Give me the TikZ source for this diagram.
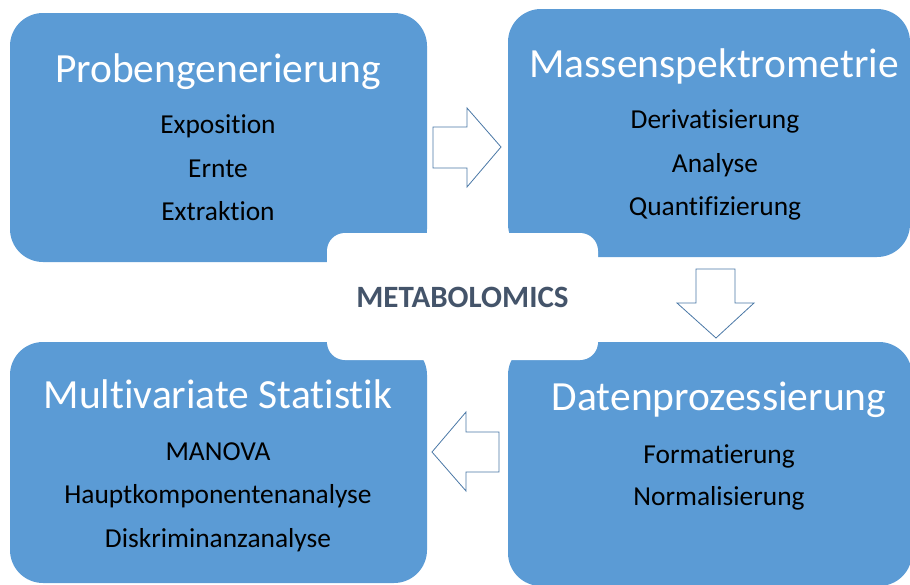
\documentclass[tikz,border=0pt]{standalone}
\usepackage{fontspec}
\setmainfont[Ligatures=NoCommon,RawFeature={-liga;-clig;-calt;-dlig}]{Carlito}
\definecolor{boxblue}{HTML}{5B9BD5}
\definecolor{arrowline}{HTML}{4A78A6}
\definecolor{slate}{HTML}{44546A}
\tikzset{
  panel/.style={fill=boxblue, draw=none, rounded corners=33pt, inner sep=0pt},
  centerbox/.style={fill=white, draw=none, rounded corners=18pt, inner sep=0pt},
  titletext/.style={anchor=base, text=white, inner sep=0pt, font=\fontsize{41.5}{49}\selectfont},
  itemtext/.style={anchor=base, text=black, inner sep=0pt, font=\fontsize{27.4}{32}\selectfont},
  blockarrow/.style={draw=arrowline, fill=white, line width=0.8pt, line join=miter}
}
\begin{document}
\begin{tikzpicture}[x=1pt,y=-1pt]
\useasboundingbox (0,0) rectangle (910,584);
% panels
\node[panel, minimum width=417pt, minimum height=249pt] (b1) at (218.5,137.5) {};
\node[panel, minimum width=402pt, minimum height=248pt] (b2) at (709,133) {};
\node[panel, minimum width=404pt, minimum height=244pt] (b3) at (710,464) {};
\node[panel, minimum width=417pt, minimum height=241pt] (b4) at (218.5,462.5) {};
% centre label
\node[centerbox, minimum width=271pt, minimum height=127pt] (c) at (462.5,296.5) {};
\node[anchor=base, inner sep=0pt, text=slate, font=\bfseries\fontsize{31}{37}\selectfont] (ctext) at (462.5,307) {METABOLOMICS};
% texts box 1
\node[titletext] (t1) at (218,82) {Probengenerierung};
\node[itemtext] (i11) at (218,133) {Exposition};
\node[itemtext] (i12) at (218,177) {Ernte};
\node[itemtext] (i13) at (218,220) {Extraktion};
% texts box 2
\node[titletext] (t2) at (714,77) {Massenspektrometrie};
\node[itemtext] (i21) at (715,128) {Derivatisierung};
\node[itemtext] (i22) at (715,172) {Analyse};
\node[itemtext] (i23) at (715,215) {Quantifizierung};
% texts box 3
\node[titletext] (t3) at (719,410) {Datenprozessierung};
\node[itemtext] (i31) at (719,463) {Formatierung};
\node[itemtext] (i32) at (719,505) {Normalisierung};
% texts box 4
\node[titletext] (t4) at (218,408) {Multivariate Statistik};
\node[itemtext] (i41) at (218,460) {MANOVA};
\node[itemtext] (i42) at (218,503) {Hauptkomponentenanalyse};
\node[itemtext] (i43) at (218,547) {Diskriminanzanalyse};
% block arrows
\draw[blockarrow] (433,127) -- (467,127) -- (467,108) -- (501,147) -- (467,187) -- (467,168) -- (433,168) -- cycle;
\draw[blockarrow] (696,269) -- (735,269) -- (735,303) -- (754,303) -- (716,338) -- (677,303) -- (696,303) -- cycle;
\draw[blockarrow] (499,432) -- (466,432) -- (466,412) -- (432,452) -- (466,491) -- (466,472) -- (499,472) -- cycle;
\end{tikzpicture}
\end{document}
